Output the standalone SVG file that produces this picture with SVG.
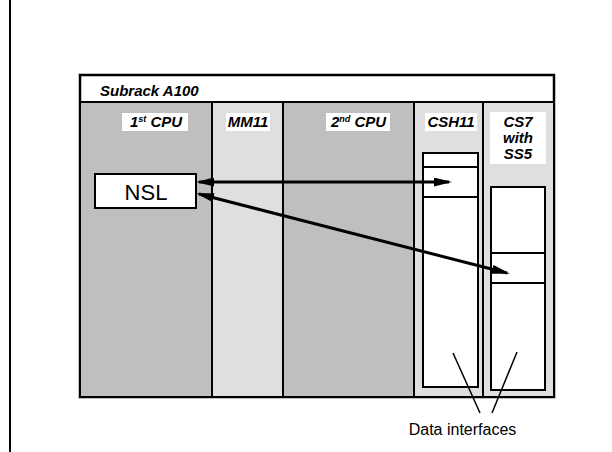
<svg xmlns="http://www.w3.org/2000/svg" width="612" height="452" viewBox="0 0 612 452">
<style>
.lbl{font-family:"Liberation Sans",Arial,sans-serif;font-weight:bold;font-style:italic;font-size:15px;fill:#000}
.plain{font-family:"Liberation Sans",Arial,sans-serif;fill:#000}
.slot{stroke:#000;stroke-width:2}
.box{fill:#fff;stroke:#000;stroke-width:2}
.conn{stroke:#000;stroke-width:3;fill:none}
</style>
<defs>
<marker id="ah" markerWidth="6" markerHeight="3" refX="5" refY="1.5" orient="auto-start-reverse" markerUnits="strokeWidth">
<path d="M0,0 L6,1.5 L0,3 Z" fill="#000"/>
</marker>
</defs>
<rect width="612" height="452" fill="#fff"/>
<line x1="10" y1="0" x2="10" y2="452" stroke="#000" stroke-width="2"/>
<g id="subrack">
<rect x="80" y="75" width="474" height="322" fill="#fff" stroke="#000" stroke-width="2.5"/>
<text class="lbl" x="100" y="96">Subrack A100</text>
</g>
<g id="cpu1">
<rect class="slot" x="80" y="102" width="132" height="295" fill="#bfbfbf"/>
<rect x="122" y="113" width="66" height="18" fill="#fff"/>
<text class="lbl" x="130" y="127">1<tspan font-size="9" dy="-5">st</tspan><tspan dy="5"> CPU</tspan></text>
</g>
<g id="mm11">
<rect class="slot" x="212" y="102" width="71" height="295" fill="#dfdfdf"/>
<rect x="226" y="113" width="44" height="18" fill="#fff"/>
<text class="lbl" x="248" y="127" text-anchor="middle">MM11</text>
</g>
<g id="cpu2">
<rect class="slot" x="283" y="102" width="131" height="295" fill="#bfbfbf"/>
<rect x="326" y="113" width="64" height="18" fill="#fff"/>
<text class="lbl" x="331" y="127">2<tspan font-size="9" dy="-5">nd</tspan><tspan dy="5"> CPU</tspan></text>
</g>
<g id="csh11">
<rect class="slot" x="414" y="102" width="69" height="295" fill="#dfdfdf"/>
<rect x="425" y="113" width="52" height="18" fill="#fff"/>
<text class="lbl" x="451" y="127" text-anchor="middle">CSH11</text>
<rect class="box" x="423" y="153" width="55" height="234"/>
<line x1="423" y1="167" x2="478" y2="167" stroke="#000" stroke-width="2"/>
<line x1="423" y1="197" x2="478" y2="197" stroke="#000" stroke-width="2"/>
</g>
<g id="cs7">
<rect class="slot" x="483" y="102" width="71" height="295" fill="#dfdfdf"/>
<rect x="490" y="112" width="56" height="52" fill="#fff"/>
<text class="lbl" x="518" y="127" text-anchor="middle">CS7</text>
<text class="lbl" x="518" y="143" text-anchor="middle">with</text>
<text class="lbl" x="518" y="159" text-anchor="middle">SS5</text>
<rect class="box" x="491" y="187" width="54" height="203"/>
<line x1="491" y1="253" x2="545" y2="253" stroke="#000" stroke-width="2"/>
<line x1="491" y1="283" x2="545" y2="283" stroke="#000" stroke-width="2"/>
</g>
<g id="nsl">
<rect class="box" x="95" y="174" width="101" height="34"/>
<text class="plain" x="146" y="200" font-size="22" text-anchor="middle">NSL</text>
</g>
<g id="connectors">
<line class="conn" x1="199" y1="182" x2="449" y2="182" marker-start="url(#ah)" marker-end="url(#ah)"/>
<line class="conn" x1="199" y1="194" x2="507" y2="273" marker-start="url(#ah)" marker-end="url(#ah)"/>
<line x1="453" y1="353" x2="480" y2="413" stroke="#000" stroke-width="1.5"/>
<line x1="517" y1="352" x2="492" y2="413" stroke="#000" stroke-width="1.5"/>
</g>
<text class="plain" x="462.5" y="435" font-size="16" text-anchor="middle">Data interfaces</text>
</svg>
